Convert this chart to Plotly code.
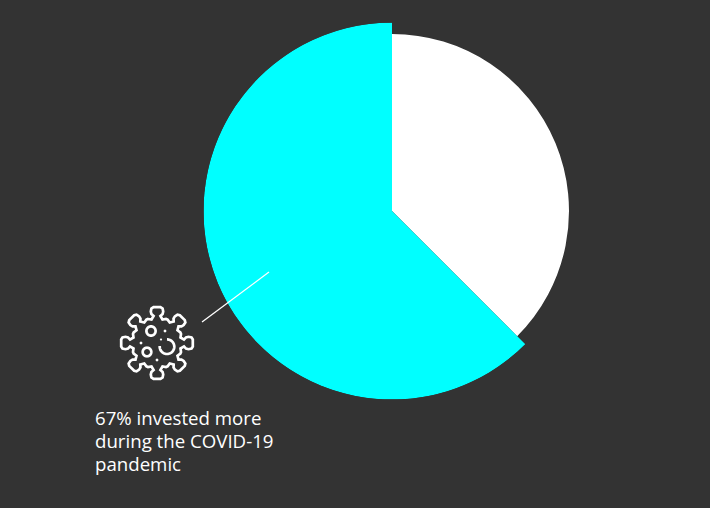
import math
import plotly.graph_objects as go

W, H = 710, 508

# Data
categories = ["Did not invest more", "Invested more"]
shares = [37.5, 62.5]
radii = [177, 188.5]
colors = ["#ffffff", "#00ffff"]
label_lines = ["67% invested more", "during the COVID-19", "pandemic"]
label_centres_px = [417, 440, 463]

BG = "#333333"
CX, CY = 392, 211


def px(x, y):
    return f"{x / W:.5f},{1 - y / H:.5f}"


def arc_path(cx, cy, r, a0=0, a1=360, close=True, n=48):
    pts = []
    for i in range(n + 1):
        a = math.radians(a0 + (a1 - a0) * i / n)
        pts.append(px(cx + r * math.cos(a), cy + r * math.sin(a)))
    return "M" + " L".join(pts) + (" Z" if close else "")


def spike_outline(cx, cy):
    # Local profile of one spike: (radius, tangential offset)
    prof = [(24, -9), (23.5, -5.5), (27, -3.4), (29, -5.6), (31.5, -6.2), (34.5, -5.6),
            (35.8, -3.5), (35.8, 3.5), (34.5, 5.6), (31.5, 6.2), (29, 5.6), (27, 3.4), (23.5, 5.5), (24, 9)]
    pts = []
    for k in range(8):
        a = math.radians(-90 + 45 * k)
        ur, ut = (math.cos(a), math.sin(a)), (-math.sin(a), math.cos(a))
        for r, s in prof:
            pts.append(px(cx + r * ur[0] + s * ut[0], cy + r * ur[1] + s * ut[1]))
    return "M" + " L".join(pts) + " Z"


def stroke(path, w=2.7):
    return dict(type="path", xref="paper", yref="paper", path=path,
                line=dict(color="#ffffff", width=w), fillcolor="rgba(0,0,0,0)", layer="above")


def dot(cx, cy, r=1.4):
    return dict(type="path", xref="paper", yref="paper", path=arc_path(cx, cy, r, n=16),
                line=dict(width=0), fillcolor="#ffffff", layer="above")


thetas, start = [], 0
widths = []
for s in shares:
    w = s * 3.6
    thetas.append(start + w / 2)
    widths.append(w)
    start += w

fig = go.Figure(go.Barpolar(
    r=radii, theta=thetas, width=widths,
    marker=dict(color=colors, line=dict(width=0)),
    text=categories, hoverinfo="text",
))

icx, icy = 157, 343
shapes = [
    dict(type="path", xref="paper", yref="paper",
         path=f"M{px(202, 322)} L{px(269, 272)}",
         line=dict(color="#ffffff", width=1.3), layer="above"),
    stroke(spike_outline(icx, icy)),
    stroke(arc_path(151, 331, 4.6)),
    stroke(arc_path(147, 352, 4.3)),
    stroke(arc_path(167, 346.7, 7.3, -90, 185, close=False)),
    dot(165, 331), dot(141, 343), dot(157, 360),
    dot(161, 339.5, 1.1),
]

fig.update_layout(
    width=W, height=H, margin=dict(l=0, r=0, t=0, b=0),
    paper_bgcolor=BG, plot_bgcolor=BG, showlegend=False,
    polar=dict(
        domain=dict(x=[(CX - 188.5) / W, (CX + 188.5) / W],
                    y=[1 - (CY + 188.5) / H, 1 - (CY - 188.5) / H]),
        bgcolor="rgba(0,0,0,0)",
        radialaxis=dict(visible=False, range=[0, 188.5]),
        angularaxis=dict(visible=False, direction="clockwise", rotation=90, thetaunit="degrees"),
    ),
    shapes=shapes,
    annotations=[dict(
        text=line, xref="paper", yref="paper",
        x=92.5 / W, y=1 - yc / H, xanchor="left", yanchor="middle", align="left", showarrow=False,
        font=dict(family="Open Sans", size=18.67, color="#ffffff"),
    ) for line, yc in zip(label_lines, label_centres_px)],
)

fig.write_html(
    "out.html",
    config={"displayModeBar": False},
    post_script="document.body.style.margin='0';document.body.style.background='#333333';document.body.style.overflow='hidden';",
)
